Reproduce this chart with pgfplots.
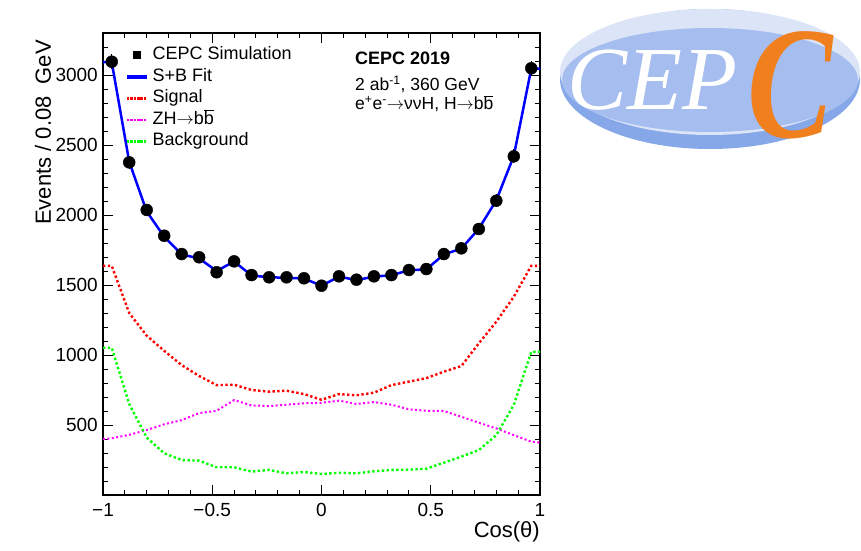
\documentclass[border=0pt]{standalone}
\usepackage{fontspec}
\setmainfont{Liberation Sans}
\newfontfamily\logofont{Liberation Serif}
\usepackage{pgfplots}
\usepackage{pgfplotstable}
\pgfplotsset{compat=1.18}
\definecolor{rootred}{RGB}{255,0,0}
\definecolor{rootmag}{RGB}{255,0,255}
\definecolor{rootgreen}{RGB}{0,255,0}
\definecolor{rootblue}{RGB}{0,0,255}
\definecolor{logolight}{HTML}{DCE4F7}
\definecolor{logomid}{HTML}{A6BEEF}
\definecolor{logodark}{HTML}{86A7E8}
\definecolor{logoorange}{HTML}{F07F1E}

\pgfplotstableread{
x y ey
-0.96 3095 55.6
-0.88 2376 48.7
-0.80 2036 45.1
-0.72 1852 43.0
-0.64 1721 41.5
-0.56 1698 41.2
-0.48 1591 39.9
-0.40 1669 40.9
-0.32 1571 39.6
-0.24 1555 39.4
-0.16 1555 39.4
-0.08 1548 39.3
0.00 1495 38.7
0.08 1562 39.5
0.16 1538 39.2
0.24 1562 39.5
0.32 1571 39.6
0.40 1607 40.1
0.48 1614 40.2
0.56 1721 41.5
0.64 1762 42.0
0.72 1900 43.6
0.80 2102 45.8
0.88 2419 49.2
0.96 3048 55.2
}\datatab

\pgfplotstableread{
x fit sig zh bkg
-1.00 3092 1637 400 1052
-0.96 3092 1637 405 1052
-0.88 2380 1300 430 650
-0.80 2025 1138 464 410
-0.72 1845 1030 505 298
-0.64 1718 928 535 250
-0.56 1690 850 585 245
-0.48 1600 785 602 198
-0.40 1668 788 678 198
-0.32 1568 750 640 167
-0.24 1555 738 635 179
-0.16 1552 745 645 155
-0.08 1546 721 655 164
0.00 1495 680 659 150
0.08 1560 721 674 159
0.16 1535 712 650 155
0.24 1560 731 664 169
0.32 1570 785 645 179
0.40 1605 810 612 181
0.48 1612 835 602 188
0.56 1718 881 600 231
0.64 1760 921 559 274
0.72 1902 1083 516 321
0.80 2105 1238 476 428
0.88 2422 1416 428 643
0.96 3045 1637 381 1023
1.00 3045 1637 375 1023
}\curvetab

\newcommand{\legdots}[1]{\path (0pt,0pt) (23pt,0pt);\foreach \i in {0,3.4,...,17}{\fill[#1] (\i pt,-0.75pt) rectangle ++(1.7pt,1.5pt);}}

\begin{document}
\begin{tikzpicture}[x=1pt,y=1pt]
\useasboundingbox (0,0) rectangle (861,550);
% logo
\fill[logodark] (710,471) ellipse [x radius=150, y radius=70];
\fill[logolight] (710,478) ellipse [x radius=150, y radius=63];
\fill[logomid] (710,470) ellipse [x radius=148, y radius=52];
\node[anchor=base west, inner sep=0pt, text=white] at (567,440) {\logofont\itshape\fontsize{90}{90}\selectfont CEP};
\node[anchor=base west, inner sep=0pt, text=logoorange, xscale=0.8] at (747,413) {\logofont\bfseries\itshape\fontsize{160}{160}\selectfont C};

\begin{axis}[
  at={(103pt,55pt)}, anchor=south west,
  width=437pt, height=462pt, scale only axis,
  xmin=-1, xmax=1, ymin=0, ymax=3300,
  axis line style={line width=1.2pt},
  tick pos=both, tick align=inside,
  major tick length=10pt, minor tick length=5pt,
  every tick/.style={black, line width=1pt},
  xtick={-1,-0.5,0,0.5,1},
  xticklabels={−1,−0.5,0,0.5,1},
  minor xtick={-0.9,-0.8,-0.7,-0.6,-0.4,-0.3,-0.2,-0.1,0.1,0.2,0.3,0.4,0.6,0.7,0.8,0.9},
  ytick={500,1000,1500,2000,2500,3000},
  yticklabels={500,1000,1500,2000,2500,3000},
  minor ytick={100,200,300,400,600,700,800,900,1100,1200,1300,1400,1600,1700,1800,1900,2100,2200,2300,2400,2600,2700,2800,2900,3100,3200},
  tick label style={font=\fontsize{19}{22}\selectfont, inner sep=0pt},
  xticklabel style={anchor=north, yshift=-8pt},
  yticklabel style={anchor=east, xshift=-5pt},
  xlabel={Cos(θ)},
  xlabel style={font=\fontsize{22}{26}\selectfont, at={(axis description cs:1,-0.058)}, anchor=north east, inner sep=0pt},
  ylabel={Events / 0.08~~GeV},
  ylabel style={font=\fontsize{22}{26}\selectfont, at={(axis description cs:-0.137,0.985)}, anchor=east, inner sep=0pt},
  legend cell align=left,
  legend style={at={(axis description cs:0.0538,0.9757)}, anchor=north west, draw=none, fill=none,
    inner sep=0pt, font=\fontsize{18}{21}\selectfont,
    nodes={inner xsep=2.5pt, inner ysep=2pt, text height=13.5pt, text depth=4pt}},
]
\addplot[only marks, mark=*, mark size=6pt, black, forget plot,
  error bars/.cd, y dir=both, y explicit, error mark=none,
  error bar style={line width=1pt, black}]
  table[x=x, y=y, y error=ey] {\datatab};
\addlegendimage{legend image code/.code={\path (0pt,0pt) (23pt,0pt);\fill[black] (6pt,-3.5pt) rectangle (13pt,3.5pt);}}
\addlegendentry{CEPC Simulation}
\addplot[rootblue, line width=2.5pt, no marks, line join=round, forget plot]
  table[x=x, y=fit] {\curvetab};
\addlegendimage{legend image code/.code={\path (0pt,0pt) (23pt,0pt);\fill[rootblue] (0pt,-1.1pt) rectangle (19pt,1.1pt);}}
\addlegendentry{S+B Fit}
\addplot[rootred, line width=2.4pt, no marks, dash pattern=on 2.4pt off 2.4pt, forget plot]
  table[x=x, y=sig] {\curvetab};
\addlegendimage{legend image code/.code={\legdots{rootred}}}
\addlegendentry{Signal}
\addplot[rootmag, line width=2pt, no marks, dash pattern=on 2pt off 2.4pt, forget plot]
  table[x=x, y=zh] {\curvetab};
\addlegendimage{legend image code/.code={\legdots{rootmag}}}
\addlegendentry{ZH$\rightarrow$b$\overline{\mbox{b}}$}
\addplot[rootgreen, line width=2.4pt, no marks, dash pattern=on 2.4pt off 2.4pt, forget plot]
  table[x=x, y=bkg] {\curvetab};
\addlegendimage{legend image code/.code={\legdots{rootgreen}}}
\addlegendentry{Background}
\end{axis}
\node[anchor=base west, inner sep=0pt, text height=13pt, text depth=1pt, font=\fontsize{18}{21}\selectfont\bfseries] at (355,485) {CEPC 2019};
\node[anchor=base west, inner sep=0pt, text height=13pt, text depth=1pt, font=\fontsize{17.5}{20}\selectfont] at (355,459.7) {2 ab\textsuperscript{-1}, 360 GeV};
\node[anchor=base west, inner sep=0pt, text height=13pt, text depth=1pt, font=\fontsize{17.5}{20}\selectfont] at (355,440) {e\textsuperscript{+}e\textsuperscript{-}$\rightarrow$ννH, H$\rightarrow$b$\overline{\mbox{b}}$};
\end{tikzpicture}
\end{document}
